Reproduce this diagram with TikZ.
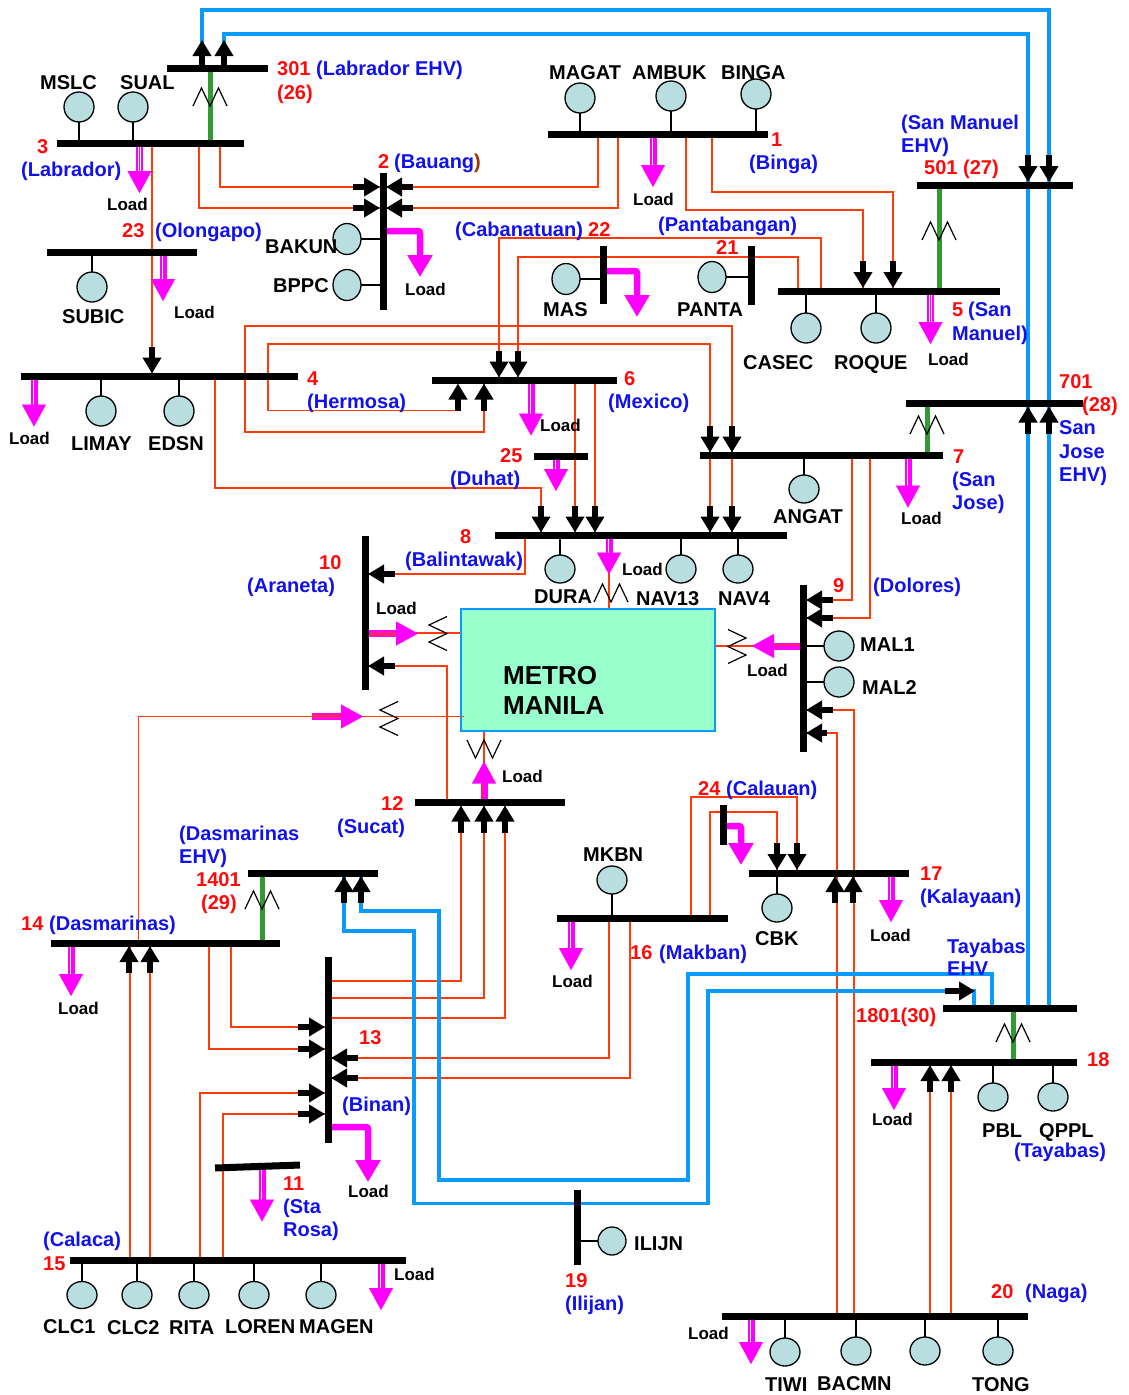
\documentclass[tikz,border=0pt]{standalone}
\usepackage{fontspec}
\setmainfont{Liberation Sans}
\usetikzlibrary{arrows.meta,shapes.geometric,calc}
\pgfdeclarelayer{wires}
\pgfsetlayers{wires,main}
\definecolor{feed}{HTML}{FF3B0A}
\definecolor{ehv}{HTML}{0A9BFA}
\definecolor{xfmr}{HTML}{339933}
\definecolor{genfill}{HTML}{B8DEE0}
\definecolor{metro}{HTML}{99FFCC}
\definecolor{lblue}{HTML}{1111EE}
\definecolor{lred}{HTML}{FF0A0A}
\definecolor{lmag}{HTML}{FF00FF}
\tikzset{
  busbar/.style={fill=black,inner sep=0pt,outer sep=0pt},
  gen/.style={ellipse,draw=black,line width=1.3pt,fill=genfill,inner sep=0pt,outer sep=0pt,minimum width=30pt,minimum height=30pt},
  stub/.style={draw=black,line width=1.3pt},
  feeder/.style={draw=feed,line width=1.8pt},
  tie/.style={draw=ehv,line width=3.6pt},
  xline/.style={draw=xfmr,line width=5pt},
  zig/.style={draw=black,line width=1.2pt},
  ba/.style={draw=black,line width=5.5pt,shorten >=3pt,-{Triangle[length=16pt,width=18pt]}},
  heavyload/.style={draw=lmag,line width=6.5pt,-{Triangle[length=22pt,width=24pt]}},
  gname/.style={anchor=base west,inner sep=0pt,font=\bfseries\fontsize{20}{23}\selectfont,text=black},
  loadtxt/.style={anchor=base west,inner sep=0pt,font=\bfseries\fontsize{17}{20}\selectfont,text=black},
  rlab/.style={anchor=base west,inner sep=0pt,font=\bfseries\fontsize{20}{23}\selectfont,text=lred},
  blab/.style={anchor=base west,inner sep=0pt,font=\bfseries\fontsize{20}{23}\selectfont,text=lblue},
}
\newcommand{\HB}[4]{\node[busbar,minimum width={(#3-#2)*1pt},minimum height=7pt] (#1) at ({(#2+#3)/2},#4) {};}
\newcommand{\VB}[4]{\node[busbar,minimum width=7pt,minimum height={(#4-#3)*1pt}] (#1) at (#2,{(#3+#4)/2}) {};}
\newcommand{\GH}[5][]{\node[gen,#1] (#2) at (#3,#4) {}; \draw[stub] (#2) -- (#2 -| #5);}
\newcommand{\GV}[5][]{\node[gen,#1] (#2) at (#3,#4) {}; \draw[stub] (#2) -- (#2 |- #5);}
% black arrow onto a bus: target coordinate, offset of its tail
\newcommand{\BA}[2]{\draw[ba] (#1) ++(#2) -- (#1);}
% double load arrow: start, vector, core colour (under the bus bars)
\newcommand{\DL}[3][white]{\begin{pgfonlayer}{wires}%
  \draw[draw=lmag,line width=7pt,shorten >=20pt] (#2) -- ++(#3);
  \draw[draw=#1,line width=2.6pt,shorten >=20pt] (#2) -- ++(#3);
  \draw[draw=lmag,line width=.1pt,-{Triangle[length=22pt,width=24pt]}] (#2) -- ++(#3);\end{pgfonlayer}}
% transformer zig-zags, by centre
\newcommand{\ZM}[2]{\draw[zig] (#1-17,#2+9) -- (#1-8.5,#2-9) -- (#1,#2+9) -- (#1+8.5,#2-9) -- (#1+17,#2+9);}
\newcommand{\ZW}[2]{\draw[zig] (#1-17,#2-9) -- (#1-8.5,#2+9) -- (#1,#2-9) -- (#1+8.5,#2+9) -- (#1+17,#2-9);}
\newcommand{\ZL}[2]{\draw[zig] (#1+9,#2-17) -- (#1-9,#2-8.5) -- (#1+9,#2) -- (#1-9,#2+8.5) -- (#1+9,#2+17);}
\newcommand{\ZR}[2]{\draw[zig] (#1-9,#2-17) -- (#1+9,#2-8.5) -- (#1-9,#2) -- (#1+9,#2+8.5) -- (#1-9,#2+17);}
\begin{document}
\begin{tikzpicture}[x=1pt,y=-1pt]
\useasboundingbox (0,0) rectangle (1128,1395);
% ---------- buses
\HB{b301}{167}{268}{68}
\HB{b3}{57}{244}{143}
\HB{b23}{47}{197}{252}
\HB{b4}{21}{298}{376.5}
\VB{b2}{383}{173}{310}
\HB{b1}{548}{768}{134}
\HB{b501}{917}{1073}{185}
\HB{b5}{778}{1000}{291}
\VB{b22}{603}{246}{304}
\VB{b21}{751}{246}{305}
\HB{b6}{432}{617}{380.5}
\HB{b701}{906}{1083}{403.5}
\HB{b7}{700}{943}{455.5}
\HB{b25}{534}{588}{456}
\HB{b8}{495}{787}{535.5}
\VB{b10}{365}{536}{690}
\VB{b9}{803}{585}{752}
\HB{b12}{415}{565}{802.5}
\VB{b24}{723}{805}{845}
\HB{b17}{749}{909}{873}
\HB{b16}{557}{728}{918}
\HB{b1401}{248}{378}{873}
\HB{b14}{51}{280}{943}
\VB{b13}{328}{957}{1143}
\HB{b1801}{943}{1077}{1008}
\HB{b18}{871}{1077}{1062}
\node[busbar,minimum width=85pt,minimum height=7pt,rotate=2] (b11) at (257.5,1166.5) {};
\HB{b15}{70}{406}{1260}
\VB{b19}{577}{1190}{1265}
\HB{b20}{722}{1028}{1316}
\node[draw=ehv,line width=1.5pt,fill=metro,minimum width=254pt,minimum height=122pt,inner sep=0pt,outer sep=0pt] (mm) at (588,670) {};
\draw[feeder] (mm.west |- 0,716.5) -- ++(3,0);
% ---------- wires
\begin{pgfonlayer}{wires}
\draw[feeder] (b3 -| 199,0) |- (b2 |- 0,208);
\draw[feeder] (b3 -| 220,0) |- (b2 |- 0,187);
\draw[feeder] (b1 -| 598,0) |- (b2 |- 0,187);
\draw[feeder] (b1 -| 618,0) |- (b2 |- 0,208);
\draw[feeder] (b1 -| 686,0) |- (863,210) -- (b5 -| 863,0);
\draw[feeder] (b1 -| 712,0) |- (893,192) -- (b5 -| 893,0);
\draw[feeder] (b3 -| 152,0) -- (b4 -| 152,0);
\draw[feeder] (b5 -| 821,0) |- (499,238) -- (b6 -| 499,0);
\draw[feeder] (b5 -| 798,0) |- (518,257) -- (b6 -| 518,0);
\draw[feeder] (b6 -| 484,0) |- (245,432) |- (732,326) -- (b7 -| 732,0);
\draw[feeder] (458,410.5) -- (268,410.5) |- (710,344) -- (b7 -| 710,0);
\draw[feeder] (b4 -| 215,0) |- (541,488) -- (b8 -| 541,0);
\draw[feeder] (b6 -| 575,0) -- (b8 -| 575,0);
\draw[feeder] (b6 -| 595,0) -- (b8 -| 595,0);
\draw[feeder] (b7 -| 710,0) -- (b8 -| 710,0);
\draw[feeder] (b7 -| 732,0) -- (b8 -| 732,0);
\draw[feeder] (b7 -| 852,0) |- (b9 |- 0,600);
\draw[feeder] (b7 -| 870,0) |- (b9 |- 0,618);
\draw[feeder] (b8 -| 525,0) |- (b10 |- 0,574);
\draw[feeder] (b10 |- 0,666) -| (b12 -| 447,0);
\draw[feeder] (b8 -| 609,0) -- (mm.north -| 609,0);
\draw[feeder] (b10 |- 0,633) -- (mm.west |- 0,633);
\draw[feeder] (b14 -| 138.5,0) |- (463,716.5);
\draw[feeder] (mm.east |- 0,646) -- (b9 |- 0,646);
\draw[feeder] (b12 -| 484,0) -- (mm.south -| 484,0);
\draw[feeder] (b9 |- 0,710) -| (b20 -| 854,0);
\draw[feeder] (b9 |- 0,733) -| (b20 -| 837,0);
\draw[feeder] (b16 -| 691,0) |- (797,797) -- (b17 -| 797,0);
\draw[feeder] (b16 -| 710,0) |- (777,812) -- (b17 -| 777,0);
\draw[feeder] (b16 -| 609,0) |- (b13 |- 0,1058);
\draw[feeder] (b16 -| 630,0) |- (b13 |- 0,1078);
\draw[feeder] (b14 -| 209,0) |- (b13 |- 0,1049);
\draw[feeder] (b14 -| 231,0) |- (b13 |- 0,1027);
\draw[feeder] (b13 |- 0,981) -| (b12 -| 461,0);
\draw[feeder] (b13 |- 0,998) -| (b12 -| 484,0);
\draw[feeder] (b13 |- 0,1018) -| (b12 -| 505,0);
\draw[feeder] (b15 -| 200,0) |- (b13 |- 0,1093);
\draw[feeder] (b15 -| 223,0) |- (b13 |- 0,1114);
\draw[feeder] (b15 -| 130,0) -- (b14 -| 130,0);
\draw[feeder] (b15 -| 150,0) -- (b14 -| 150,0);
\draw[feeder] (b20 -| 930,0) -- (b18 -| 930,0);
\draw[feeder] (b20 -| 951,0) -- (b18 -| 951,0);
% EHV ties
\draw[tie] (b301 -| 202,0) |- (1049,10) -- (b1801 -| 1049,0);
\draw[tie] (b301 -| 224,0) |- (1028,34) -- (b1801 -| 1028,0);
\draw[tie] (b1401 -| 344,0) |- (414,931) |- (708,1203.5) |- (974,991) -- (b1801 -| 974,0);
\draw[tie] (b1401 -| 361,0) |- (439,911) |- (688,1180) |- (992,974) -- (b1801 -| 992,0);
% transformer links
\draw[xline] (b301 -| 210,0) -- (b3 -| 210,0);
\draw[xline] (b501 -| 939,0) -- (b5 -| 939,0);
\draw[xline] (b701 -| 927,0) -- (b7 -| 927,0);
\draw[xline] (b1401 -| 262,0) -- (b14 -| 262,0);
\draw[xline] (b1801 -| 1013,0) -- (b18 -| 1013,0);
\end{pgfonlayer}
% ---------- transformer symbols
\ZM{210}{97}
\ZM{939}{231}
\ZM{927}{425}
\ZM{262}{900}
\ZM{1013}{1033}
\ZM{611}{593}
\ZW{484}{749}
\ZL{438}{633.5}
\ZL{389}{718.5}
\ZR{737}{646.5}
% ---------- generators
\GV{gMSLC}{79}{107}{b3}
\GV{gSUAL}{133}{107}{b3}
\GV{gMAGAT}{580}{98}{b1}
\GV{gAMBUK}{671}{96}{b1}
\GV{gBINGA}{756}{94}{b1}
\GH[minimum width=28pt,minimum height=31pt]{gBAKUN}{347}{239}{b2}
\GH[minimum width=28pt,minimum height=31pt]{gBPPC}{347}{285}{b2}
\GV{gSUBIC}{92}{287}{b23}
\GV{gLIMAY}{101}{411}{b4}
\GV{gEDSN}{179}{411}{b4}
\GH[minimum width=28pt,minimum height=31pt]{gMAS}{566}{279}{b22}
\GH[minimum width=28pt,minimum height=31pt]{gPANTA}{712}{277}{b21}
\GV{gCASEC}{806}{328}{b5}
\GV{gROQUE}{876}{328}{b5}
\GV[minimum height=28pt]{gANGAT}{804}{489}{b7}
\GV[minimum height=28pt]{gDURA}{560}{569}{b8}
\GV[minimum height=28pt]{gNAV13}{681}{569}{b8}
\GV[minimum height=28pt]{gNAV4}{738}{569}{b8}
\GH{gMAL1}{839}{646}{b9}
\GH{gMAL2}{839}{682}{b9}
\GV[minimum height=28pt]{gMKBN}{612}{880}{b16}
\GV[minimum height=28pt]{gCBK}{777}{908}{b17}
\GV[minimum height=28pt]{gPBL}{993}{1097}{b18}
\GV[minimum height=28pt]{gQPPL}{1053}{1097}{b18}
\GV[minimum height=27pt]{gCLC1}{82}{1295}{b15}
\GV[minimum height=27pt]{gCLC2}{137}{1295}{b15}
\GV[minimum height=27pt]{gRITA}{194}{1295}{b15}
\GV[minimum height=27pt]{gLOREN}{254}{1295}{b15}
\GV[minimum height=27pt]{gMAGEN}{321}{1295}{b15}
\GH[minimum width=28pt,minimum height=28pt]{gILIJN}{612}{1241}{b19}
\GV[minimum height=28pt]{gTIWI}{785}{1352}{b20}
\GV[minimum height=28pt]{gBACMN}{856}{1351}{b20}
\GV[minimum height=28pt]{gX}{925}{1351}{b20}
\GV[minimum height=28pt]{gTONG}{998}{1351}{b20}
% ---------- black arrows
\draw[ba,shorten >=0pt] (b301 -| 202,0) -- ++(0,-28);
\draw[ba,shorten >=0pt] (b301 -| 224,0) -- ++(0,-28);
\BA{b2 |- 0,187}{-30,0}
\BA{b2 |- 0,208}{-30,0}
\BA{b2 |- 0,187}{30,0}
\BA{b2 |- 0,208}{30,0}
\BA{b4 -| 152,0}{0,-30}
\BA{b5 -| 863,0}{0,-30}
\BA{b5 -| 893,0}{0,-30}
\BA{b501 -| 1028,0}{0,-30}
\BA{b501 -| 1049,0}{0,-30}
\BA{b701 -| 1028,0}{0,30}
\BA{b701 -| 1049,0}{0,30}
\BA{b6 -| 499,0}{0,-30}
\BA{b6 -| 518,0}{0,-30}
\BA{b6 -| 458,0}{0,30}
\BA{b6 -| 484,0}{0,30}
\BA{b7 -| 710,0}{0,-30}
\BA{b7 -| 732,0}{0,-30}
\BA{b8 -| 541,0}{0,-30}
\BA{b8 -| 575,0}{0,-30}
\BA{b8 -| 595,0}{0,-30}
\BA{b8 -| 710,0}{0,-30}
\BA{b8 -| 732,0}{0,-30}
\BA{b9 |- 0,600}{30,0}
\BA{b9 |- 0,618}{30,0}
\BA{b9 |- 0,710}{30,0}
\BA{b9 |- 0,733}{24,0}
\BA{b10 |- 0,574}{30,0}
\BA{b10 |- 0,666}{30,0}
\BA{b12 -| 461,0}{0,30}
\BA{b12 -| 484,0}{0,30}
\BA{b12 -| 505,0}{0,30}
\BA{b17 -| 777,0}{0,-30}
\BA{b17 -| 797,0}{0,-30}
\BA{b17 -| 835,0}{0,30}
\BA{b17 -| 853,0}{0,30}
\BA{b1401 -| 344,0}{0,30}
\BA{b1401 -| 361,0}{0,30}
\BA{b14 -| 129,0}{0,30}
\BA{b14 -| 150,0}{0,30}
\BA{b13 |- 0,1027}{-30,0}
\BA{b13 |- 0,1049}{-30,0}
\BA{b13 |- 0,1093}{-30,0}
\BA{b13 |- 0,1114}{-30,0}
\BA{b13 |- 0,1058}{30,0}
\BA{b13 |- 0,1078}{30,0}
\BA{b18 -| 930,0}{0,30}
\BA{b18 -| 951,0}{0,30}
\coordinate (t1801) at (975,991);
\draw[ba,shorten >=0pt] (t1801) ++(-30,0) -- (t1801);
% ---------- load arrows
\DL{b3 -| 139.5,0}{0,50}
\DL{b23 -| 163,0}{0,49}
\DL{b1 -| 653,0}{0,53}
\DL{b5 -| 930.5,0}{0,53}
\DL{b4 -| 34,0}{0,50}
\DL{b6 -| 531,0}{0,55}
\DL{b25 -| 556,0}{0,35}
\DL{b7 -| 908,0}{0,52}
\DL{b8 -| 609,0}{0,39}
\DL[feed]{b10 |- 0,633.5}{53,0}
\DL[feed]{b9 |- 0,646}{-51,0}
\coordinate (loadA) at (312,716.5);
\DL[feed]{loadA}{51,0}
\DL[feed]{b12 -| 484,0}{0,-41}
\DL{b14 -| 71,0}{0,53}
\DL{b17 -| 891,0}{0,49}
\DL{b16 -| 571,0}{0,52}
\DL{b18 -| 894,0}{0,48}
\DL{b11 -| 262,0}{0,55}
\DL{b15 -| 381,0}{0,50}
\DL{b20 -| 751,0}{0,48}
\begin{pgfonlayer}{wires}
\draw[heavyload,rounded corners=2pt] (b2 |- 0,231) -| (420,277);
\draw[heavyload,rounded corners=2pt] (b22 |- 0,271) -| (637,317);
\draw[heavyload,rounded corners=2pt] (b24 |- 0,826) -| (741,865);
\draw[heavyload,rounded corners=2pt] (b13 |- 0,1127) -| (368,1182);
\end{pgfonlayer}
% ---------- generator names
\node[gname] (nMSLC) at (40,89) {MSLC};
\node[gname] (nSUAL) at (120,89) {SUAL};
\node[gname] (nMAGAT) at (549,79) {MAGAT};
\node[gname] (nAMBUK) at (632,79) {AMBUK};
\node[gname] (nBINGA) at (721,79) {BINGA};
\node[gname] (nBAKUN) at (265,253) {BAKUN};
\node[gname] (nBPPC) at (273,292) {BPPC};
\node[gname] (nSUBIC) at (62,323) {SUBIC};
\node[gname] (nMAS) at (543,316) {MAS};
\node[gname] (nPANTA) at (677,316) {PANTA};
\node[gname] (nCASEC) at (743,369) {CASEC};
\node[gname] (nROQUE) at (834,369) {ROQUE};
\node[gname] (nLIMAY) at (71,450) {LIMAY};
\node[gname] (nEDSN) at (148,450) {EDSN};
\node[gname] (nANGAT) at (773,523) {ANGAT};
\node[gname] (nDURA) at (534,603) {DURA};
\node[gname] (nNAV13) at (636,605) {NAV13};
\node[gname] (nNAV4) at (718,605) {NAV4};
\node[gname] (nMAL1) at (860,651) {MAL1};
\node[gname] (nMAL2) at (862,694) {MAL2};
\node[gname] (nMKBN) at (583,861) {MKBN};
\node[gname] (nCBK) at (755,945) {CBK};
\node[gname] (nPBL) at (982,1137) {PBL};
\node[gname] (nQPPL) at (1039,1137) {QPPL};
\node[gname] (nCLC1) at (43,1333) {CLC1};
\node[gname] (nCLC2) at (107,1334) {CLC2};
\node[gname] (nRITA) at (169,1334) {RITA};
\node[gname] (nLOREN) at (225,1333) {LOREN};
\node[gname] (nMAGEN) at (299,1333) {MAGEN};
\node[gname] (nILIJN) at (634,1250) {ILIJN};
\node[gname] (nTIWI) at (765,1391) {TIWI};
\node[gname] (nBACMN) at (817,1390) {BACMN};
\node[gname] (nTONG) at (972,1391) {TONG};
\node[anchor=base west,inner sep=0pt,align=left,font=\bfseries\fontsize{26}{30}\selectfont] (nMM) at (503,714) {METRO\\MANILA};
% ---------- Load labels
\node[loadtxt] (l1) at (107,210) {Load};
\node[loadtxt] (l2) at (633,205) {Load};
\node[loadtxt] (l3) at (405,295) {Load};
\node[loadtxt] (l4) at (174,318) {Load};
\node[loadtxt] (l5) at (928,365) {Load};
\node[loadtxt] (l6) at (540,431) {Load};
\node[loadtxt] (l7) at (9,444) {Load};
\node[loadtxt] (l8) at (901,524) {Load};
\node[loadtxt] (l9) at (622,575) {Load};
\node[loadtxt] (l10) at (376,614) {Load};
\node[loadtxt] (l11) at (747,676) {Load};
\node[loadtxt] (l12) at (502,782) {Load};
\node[loadtxt] (l13) at (870,941) {Load};
\node[loadtxt] (l14) at (58,1014) {Load};
\node[loadtxt] (l15) at (552,987) {Load};
\node[loadtxt] (l16) at (872,1125) {Load};
\node[loadtxt] (l17) at (348,1197) {Load};
\node[loadtxt] (l18) at (394,1280) {Load};
\node[loadtxt] (l19) at (688,1339) {Load};
% ---------- bus numbers and places
\node[rlab] (r301) at (277,75) {301};
\node[blab] (p301) at (316,75) {(Labrador EHV)};
\node[rlab] (r26) at (277,99) {(26)};
\node[rlab] (r3) at (37,153) {3};
\node[blab] (p3) at (21,176) {(Labrador)};
\node[rlab] (r2) at (378,168) {2};
\node[blab] (p2) at (394,168) {(Bauang\textcolor[HTML]{993300}{)}};
\node[rlab] (r1) at (771,146) {1};
\node[blab] (p1) at (749,169) {(Binga)};
\node[blab] (p501) at (901,129) {(San Manuel};
\node[blab] (p501b) at (901,152) {EHV)};
\node[rlab] (r501) at (924,174) {501 (27)};
\node[rlab] (r23) at (122,237) {23};
\node[blab] (p23) at (155,237) {(Olongapo)};
\node[blab] (p22) at (455,236) {(Cabanatuan)};
\node[rlab] (r22) at (588,236) {22};
\node[blab] (p21) at (658,231) {(Pantabangan)};
\node[rlab] (r21) at (716,254) {21};
\node[rlab] (r5) at (952,316) {5};
\node[blab] (p5) at (968,316) {(San};
\node[blab] (p5b) at (952,340) {Manuel)};
\node[rlab] (r4) at (307,385) {4};
\node[blab] (p4) at (307,408) {(Hermosa)};
\node[rlab] (r6) at (624,385) {6};
\node[blab] (p6) at (608,408) {(Mexico)};
\node[rlab] (r701) at (1059,388) {701};
\node[rlab] (r28) at (1082,411) {(28)};
\node[blab] (p701) at (1059,434) {San};
\node[blab] (p701b) at (1059,458) {Jose};
\node[blab] (p701c) at (1059,481) {EHV)};
\node[rlab] (r7) at (953,463) {7};
\node[blab] (p7) at (952,486) {(San};
\node[blab] (p7b) at (952,509) {Jose)};
\node[rlab] (r25) at (500,462) {25};
\node[blab] (p25) at (450,485) {(Duhat)};
\node[rlab] (r8) at (460,543) {8};
\node[blab] (p8) at (405,566) {(Balintawak)};
\node[rlab] (r10) at (319,569) {10};
\node[blab] (p10) at (247,592) {(Araneta)};
\node[rlab] (r9) at (833,592) {9};
\node[blab] (p9) at (873,592) {(Dolores)};
\node[rlab] (r12) at (381,810) {12};
\node[blab] (p12) at (337,833) {(Sucat)};
\node[rlab] (r24) at (698,795) {24};
\node[blab] (p24) at (726,795) {(Calauan)};
\node[rlab] (r17) at (920,880) {17};
\node[blab] (p17) at (920,903) {(Kalayaan)};
\node[blab] (p1401) at (179,840) {(Dasmarinas};
\node[blab] (p1401b) at (179,863) {EHV)};
\node[rlab] (r1401) at (196,886) {1401};
\node[rlab] (r29) at (201,909) {(29)};
\node[rlab] (r14) at (21,930) {14};
\node[blab] (p14) at (49,930) {(Dasmarinas)};
\node[rlab] (r16) at (630,959) {16};
\node[blab] (p16) at (659,959) {(Makban)};
\node[blab] (p1801) at (947,953) {Tayabas};
\node[blab] (p1801b) at (947,975) {EHV};
\node[rlab] (r1801) at (856,1022) {1801(30)};
\node[rlab] (r13) at (359,1044) {13};
\node[blab] (p13) at (342,1111) {(Binan)};
\node[rlab] (r18) at (1087,1066) {18};
\node[blab] (p18) at (1014,1157) {(Tayabas)};
\node[rlab] (r11) at (283,1190) {11};
\node[blab] (p11) at (283,1213) {(Sta};
\node[blab] (p11b) at (283,1236) {Rosa)};
\node[blab] (p15) at (43,1246) {(Calaca)};
\node[rlab] (r15) at (43,1270) {15};
\node[rlab] (r19) at (565,1287) {19};
\node[blab] (p19) at (565,1310) {(Ilijan)};
\node[rlab] (r20) at (991,1298) {20};
\node[blab] (p20) at (1025,1298) {(Naga)};
\end{tikzpicture}
\end{document}
